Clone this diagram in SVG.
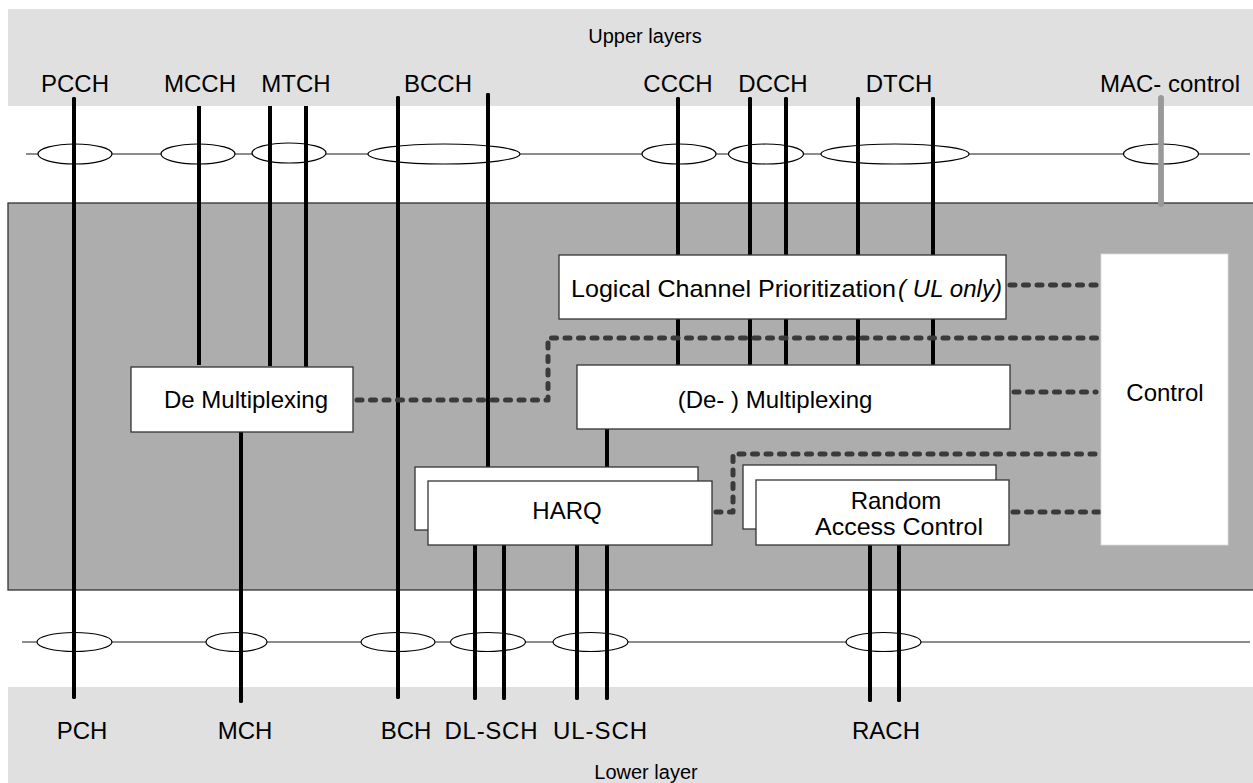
<svg xmlns="http://www.w3.org/2000/svg" width="1253" height="783" viewBox="0 0 1253 783">
<style>
text{font-family:"Liberation Sans",Arial,sans-serif;fill:#000}
.lbl{font-size:24px;text-anchor:middle}
.small{font-size:20px;text-anchor:middle}
.box{fill:#fff;stroke:#333;stroke-width:1.3}
.bus{stroke:#666;stroke-width:1.5;fill:none}
.ell{fill:#fff;stroke:#000;stroke-width:1.2}
.ch{stroke:#000;stroke-width:4;stroke-linecap:round;fill:none}
.chb{stroke:#000;stroke-width:4;stroke-linecap:butt;fill:none}
.ctl{stroke:#3a3a3a;stroke-width:5;stroke-dasharray:5 8.5;stroke-linecap:round;stroke-linejoin:round;fill:none}
</style>
<rect width="1253" height="783" fill="#fff"/>
<g id="upper-layers">
<rect x="8" y="9" width="1245" height="97" fill="#e0e0e0"/>
<text class="small" x="645" y="43">Upper layers</text>
</g>
<g id="lower-layer">
<rect x="8" y="687" width="1245" height="96" fill="#e0e0e0"/>
<text class="small" x="646" y="779">Lower layer</text>
</g>
<g id="mac-entity">
<rect x="8" y="203" width="1246" height="387" fill="#adadad" stroke="#333" stroke-width="1.3"/>
</g>
<g id="buses">
<line class="bus" x1="26" y1="154" x2="1250" y2="154"/>
<line class="bus" x1="22" y1="642" x2="1250" y2="642"/>
</g>
<g id="connectors">
<line class="ch" x1="74" y1="99" x2="74" y2="697"/>
<line class="chb" x1="199" y1="106" x2="199" y2="365"/>
<line class="chb" x1="270" y1="106" x2="270" y2="366"/>
<line class="chb" x1="306" y1="106" x2="306" y2="367"/>
<line class="ch" x1="398" y1="98" x2="398" y2="697"/>
<line class="ch" x1="488" y1="95" x2="488" y2="467"/>
<line class="ch" x1="678" y1="99" x2="678" y2="364"/>
<line class="ch" x1="750" y1="99" x2="750" y2="364"/>
<line class="ch" x1="786" y1="99" x2="786" y2="364"/>
<line class="ch" x1="858" y1="99" x2="858" y2="364"/>
<line class="ch" x1="933" y1="99" x2="933" y2="364"/>
<line x1="1161" y1="98" x2="1161" y2="204" stroke="#999" stroke-width="5.5" stroke-linecap="round"/>
<line class="ch" x1="241" y1="432" x2="241" y2="701"/>
<line class="ch" x1="607" y1="429" x2="607" y2="698"/>
<line class="ch" x1="475" y1="545" x2="475" y2="698"/>
<line class="ch" x1="504" y1="545" x2="504" y2="698"/>
<line class="ch" x1="577" y1="545" x2="577" y2="698"/>
<line class="ch" x1="870" y1="545" x2="870" y2="700"/>
<line class="ch" x1="899" y1="545" x2="899" y2="700"/>
<path class="ctl" d="M357,400 H548 V338 H1100"/>
<path class="ctl" d="M1010,285 H1100"/>
<path class="ctl" d="M1014,392 H1096"/>
<path class="ctl" d="M716,512 H733 V454 H1100"/>
<path class="ctl" d="M1013,512 H1100"/>
</g>
<g id="sap-upper">
<ellipse class="ell" cx="75" cy="154" rx="37" ry="10"/>
<ellipse class="ell" cx="198" cy="154" rx="37" ry="10"/>
<ellipse class="ell" cx="289" cy="153" rx="37" ry="10"/>
<ellipse class="ell" cx="444" cy="154" rx="76" ry="10"/>
<ellipse class="ell" cx="679" cy="154" rx="37" ry="10"/>
<ellipse class="ell" cx="766" cy="154" rx="37.5" ry="10"/>
<ellipse class="ell" cx="895" cy="154" rx="74" ry="10"/>
<ellipse class="ell" cx="1161" cy="154" rx="37.5" ry="10"/>
</g>
<g id="sap-lower">
<ellipse class="ell" cx="74.5" cy="642" rx="37.5" ry="9.5"/>
<ellipse class="ell" cx="236.5" cy="642" rx="30.5" ry="9.5"/>
<ellipse class="ell" cx="398" cy="642" rx="37" ry="9.5"/>
<ellipse class="ell" cx="488" cy="642" rx="37.5" ry="9.5"/>
<ellipse class="ell" cx="590.5" cy="642" rx="37.5" ry="9.5"/>
<ellipse class="ell" cx="883.5" cy="642" rx="37.5" ry="9.5"/>
</g>
<g id="channels-over-saps">
<line class="ch" x1="74" y1="99" x2="74" y2="203"/>
<line class="chb" x1="199" y1="106" x2="199" y2="203"/>
<line class="chb" x1="270" y1="106" x2="270" y2="203"/>
<line class="chb" x1="306" y1="106" x2="306" y2="203"/>
<line class="ch" x1="398" y1="98" x2="398" y2="203"/>
<line class="ch" x1="488" y1="95" x2="488" y2="203"/>
<line class="ch" x1="678" y1="99" x2="678" y2="203"/>
<line class="ch" x1="750" y1="99" x2="750" y2="203"/>
<line class="ch" x1="786" y1="99" x2="786" y2="203"/>
<line class="ch" x1="858" y1="99" x2="858" y2="203"/>
<line class="ch" x1="933" y1="99" x2="933" y2="203"/>
<line x1="1161" y1="98" x2="1161" y2="204" stroke="#999" stroke-width="5.5" stroke-linecap="round"/>
<line class="ch" x1="74" y1="590" x2="74" y2="697"/>
<line class="ch" x1="241" y1="590" x2="241" y2="701"/>
<line class="ch" x1="398" y1="590" x2="398" y2="697"/>
<line class="ch" x1="475" y1="590" x2="475" y2="698"/>
<line class="ch" x1="504" y1="590" x2="504" y2="698"/>
<line class="ch" x1="577" y1="590" x2="577" y2="698"/>
<line class="ch" x1="607" y1="590" x2="607" y2="698"/>
<line class="ch" x1="870" y1="590" x2="870" y2="700"/>
<line class="ch" x1="899" y1="590" x2="899" y2="700"/>
</g>
<g id="channel-labels">
<text class="lbl" x="75" y="92">PCCH</text>
<text class="lbl" x="200" y="92">MCCH</text>
<text class="lbl" x="296" y="92">MTCH</text>
<text class="lbl" x="438" y="92">BCCH</text>
<text class="lbl" x="678" y="92">CCCH</text>
<text class="lbl" x="773" y="92">DCCH</text>
<text class="lbl" x="899" y="92">DTCH</text>
<text class="lbl" x="1170" y="92">MAC- control</text>
<text class="lbl" x="82" y="739">PCH</text>
<text class="lbl" x="245" y="739">MCH</text>
<text class="lbl" x="406" y="739">BCH</text>
<text class="lbl" x="491" y="739" textLength="93" lengthAdjust="spacing">DL-SCH</text>
<text class="lbl" x="600" y="739" textLength="94" lengthAdjust="spacing">UL-SCH</text>
<text class="lbl" x="886" y="739">RACH</text>
</g>
<g id="demux-mch">
<rect class="box" x="131" y="367" width="222" height="65"/>
<text class="lbl" x="246" y="408">De Multiplexing</text>
</g>
<g id="lcp">
<rect class="box" x="559" y="255" width="447" height="64"/>
<text x="571" y="297" font-size="24" textLength="325" lengthAdjust="spacingAndGlyphs">Logical Channel Prioritization</text>
<text x="898" y="297" font-size="24" font-style="italic" textLength="104" lengthAdjust="spacing">( UL only)</text>
</g>
<g id="mux">
<rect class="box" x="577" y="365" width="433" height="64"/>
<text class="lbl" x="775" y="408">(De- ) Multiplexing</text>
</g>
<g id="harq">
<rect class="box" x="415" y="467" width="283" height="63"/>
<rect class="box" x="428" y="481" width="284" height="64"/>
<text class="lbl" x="567" y="519">HARQ</text>
</g>
<g id="rac">
<rect class="box" x="743" y="465" width="253" height="64"/>
<rect class="box" x="756" y="480" width="253" height="65"/>
<text class="lbl" x="896" y="509" font-size="22">Random</text>
<text class="lbl" x="899" y="535" font-size="22" textLength="168" lengthAdjust="spacingAndGlyphs">Access Control</text>
</g>
<g id="control">
<rect x="1101" y="254" width="127" height="291" fill="#fff" stroke="#ddd" stroke-width="0.8"/>
<text class="lbl" x="1165" y="401">Control</text>
</g>
</svg>
